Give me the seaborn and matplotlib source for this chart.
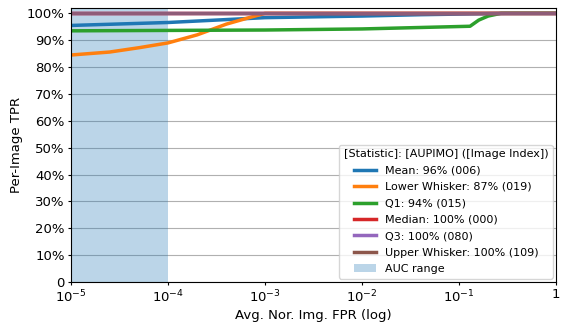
import numpy as np
import pandas as pd
import matplotlib
matplotlib.use("Agg")
import matplotlib.pyplot as plt
from matplotlib.ticker import FuncFormatter, NullLocator
import seaborn as sns

# Curve data (FPR on log scale, TPR as fraction)
fpr_mean = [1e-5, 1e-4, 1e-3, 1e-2, 4e-2, 0.3, 1.0]
tpr_mean = [0.955, 0.966, 0.984, 0.990, 0.995, 1.0, 1.0]

fpr_lower = [1e-5, 2.5e-5, 5e-5, 1e-4, 2e-4, 4e-4, 7e-4, 1e-3, 1.0]
tpr_lower = [0.845, 0.856, 0.872, 0.890, 0.920, 0.960, 0.985, 1.0, 1.0]

fpr_q1 = [1e-5, 1e-3, 1e-2, 0.13, 0.16, 0.2, 0.27, 1.0]
tpr_q1 = [0.935, 0.938, 0.942, 0.952, 0.975, 0.990, 1.0, 1.0]

fpr_flat = [1e-5, 1.0]
tpr_flat = [1.0, 1.0]

labels = ["Mean: 96% (006)", "Lower Whisker: 87% (019)", "Q1: 94% (015)",
          "Median: 100% (000)", "Q3: 100% (080)", "Upper Whisker: 100% (109)"]
curves = [(fpr_mean, tpr_mean), (fpr_lower, tpr_lower), (fpr_q1, tpr_q1),
          (fpr_flat, tpr_flat), (fpr_flat, tpr_flat), (fpr_flat, tpr_flat)]
alphas = [1, 1, 1, 1, 1, 0.6]

colors = sns.color_palette("tab10", 6)
plt.rcParams["font.size"] = 9.5

fig = plt.figure(figsize=(5.7, 3.3), dpi=100)
ax = fig.add_axes([0.1246, 0.1455, 0.8508, 0.8303])

for (x, y), lab, col, a in zip(curves, labels, colors, alphas):
    df = pd.DataFrame({"fpr": x, "tpr": y})
    sns.lineplot(data=df, x="fpr", y="tpr", ax=ax, color=col, label=lab,
                 linewidth=2.5, alpha=a, estimator=None, sort=False)

ax.axvspan(1e-5, 1e-4, color="C0", alpha=0.3, linewidth=0, label="AUC range")

ax.set_xscale("log")
ax.set_xlim(1e-5, 1)
ax.set_ylim(0, 1.02)
ax.set_xticks([1e-5, 1e-4, 1e-3, 1e-2, 1e-1, 1])
ax.set_xticklabels(["$10^{-5}$", "$10^{-4}$", "$10^{-3}$", "$10^{-2}$", "$10^{-1}$", "1"])
ax.xaxis.set_minor_locator(NullLocator())
ax.set_yticks(np.arange(0, 1.01, 0.1))
ax.yaxis.set_major_formatter(FuncFormatter(lambda v, p: "0" if v == 0 else f"{v * 100:.0f}%"))
ax.tick_params(length=2.5, pad=2)
ax.grid(axis="y", color="#b0b0b0", linewidth=0.8)
ax.set_axisbelow(True)

ax.set_xlabel("Avg. Nor. Img. FPR (log)", labelpad=3)
ax.set_ylabel("Per-Image TPR", labelpad=3)
leg = ax.legend(title="[Statistic]: [AUPIMO] ([Image Index])", loc="lower right",
                fontsize=8, title_fontsize=8, labelspacing=0.58, borderaxespad=0.3)
for h in leg.legend_handles[:-1]:
    h.set_alpha(1)

fig.savefig("out.png", dpi=100)
